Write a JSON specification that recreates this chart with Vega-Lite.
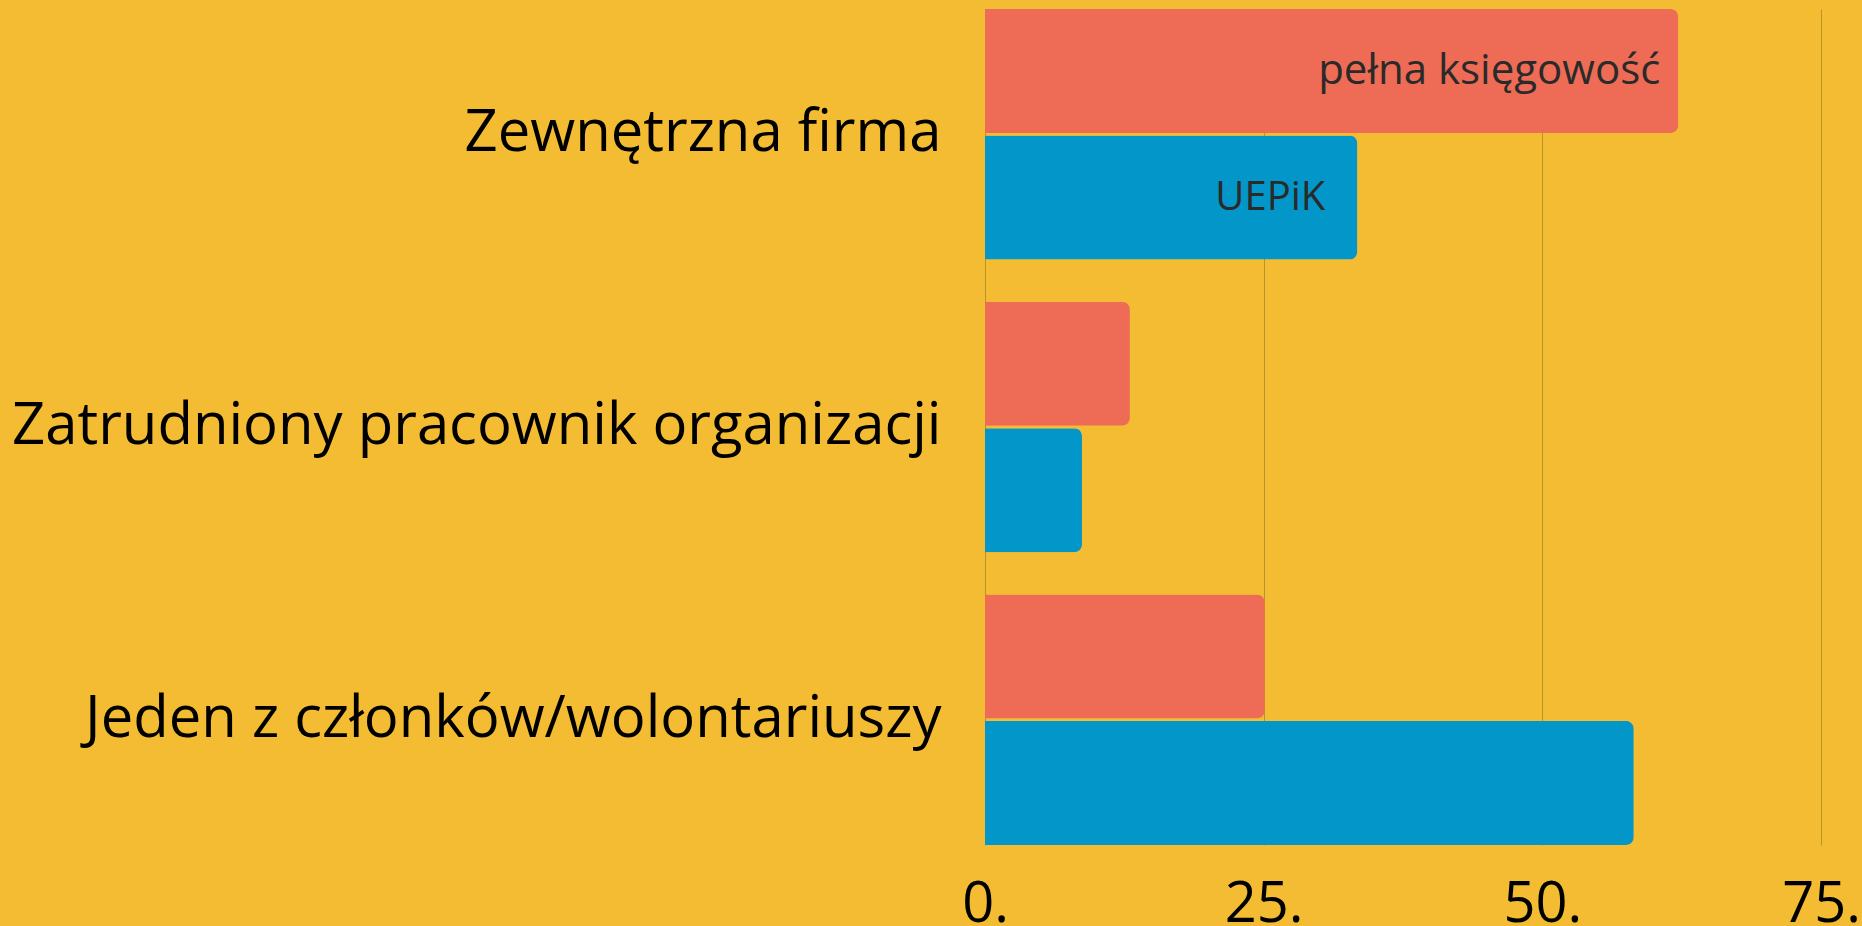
{
  "$schema": "https://vega.github.io/schema/vega-lite/v6.json",
  "width": 836,
  "height": 836,
  "autosize": "none",
  "padding": {"left": 985, "top": 9, "right": 41, "bottom": 81},
  "background": "#F3BC33",
  "config": {"view": {"stroke": null}, "font": "Open Sans"},
  "data": {
    "values": [
      {"kategoria": "Zewnętrzna firma", "typ": "pełna księgowość", "wartosc": 62.2},
      {"kategoria": "Zewnętrzna firma", "typ": "UEPiK", "wartosc": 33.4},
      {"kategoria": "Zatrudniony pracownik organizacji", "typ": "pełna księgowość", "wartosc": 13.0},
      {"kategoria": "Zatrudniony pracownik organizacji", "typ": "UEPiK", "wartosc": 8.7},
      {"kategoria": "Jeden z członków/wolontariuszy", "typ": "pełna księgowość", "wartosc": 25.1},
      {"kategoria": "Jeden z członków/wolontariuszy", "typ": "UEPiK", "wartosc": 58.2}
    ]
  },
  "encoding": {
    "y": {
      "field": "kategoria",
      "type": "nominal",
      "sort": ["Zewnętrzna firma", "Zatrudniony pracownik organizacji", "Jeden z członków/wolontariuszy"],
      "scale": {"paddingInner": 0.144, "paddingOuter": 0},
      "axis": {
        "title": null,
        "ticks": false,
        "domain": false,
        "labelFontSize": 58,
        "labelPadding": 44,
        "labelColor": "#000000",
        "labelLimit": 0
      }
    },
    "yOffset": {
      "field": "typ",
      "type": "nominal",
      "sort": ["pełna księgowość", "UEPiK"],
      "scale": {"paddingInner": 0.019, "paddingOuter": 0}
    },
    "x": {
      "field": "wartosc",
      "type": "quantitative",
      "scale": {"domain": [0, 75]},
      "axis": {
        "title": null,
        "values": [0, 25, 50, 75],
        "labelExpr": "datum.value + '.'",
        "labelFlush": false,
        "labelFontSize": 56,
        "labelColor": "#000000",
        "labelPadding": 32,
        "ticks": false,
        "domain": false,
        "grid": true,
        "gridColor": "#B8942C",
        "gridWidth": 1
      }
    }
  },
  "layer": [
    {
      "mark": {"type": "bar", "cornerRadiusTopRight": 8, "cornerRadiusBottomRight": 8},
      "encoding": {
        "color": {
          "field": "typ",
          "type": "nominal",
          "scale": {"domain": ["pełna księgowość", "UEPiK"], "range": ["#EE6C56", "#0396C8"]},
          "legend": null
        }
      }
    },
    {
      "transform": [{"filter": "datum.kategoria === 'Zewnętrzna firma' && datum.typ === 'pełna księgowość'"}],
      "mark": {"type": "text", "align": "right", "baseline": "middle", "dx": -18, "fontSize": 42, "color": "#2A2A2A"},
      "encoding": {"text": {"field": "typ", "type": "nominal"}}
    },
    {
      "transform": [{"filter": "datum.kategoria === 'Zewnętrzna firma' && datum.typ === 'UEPiK'"}],
      "mark": {"type": "text", "align": "right", "baseline": "middle", "dx": -32, "fontSize": 40, "color": "#2A2A2A"},
      "encoding": {"text": {"field": "typ", "type": "nominal"}}
    }
  ]
}
